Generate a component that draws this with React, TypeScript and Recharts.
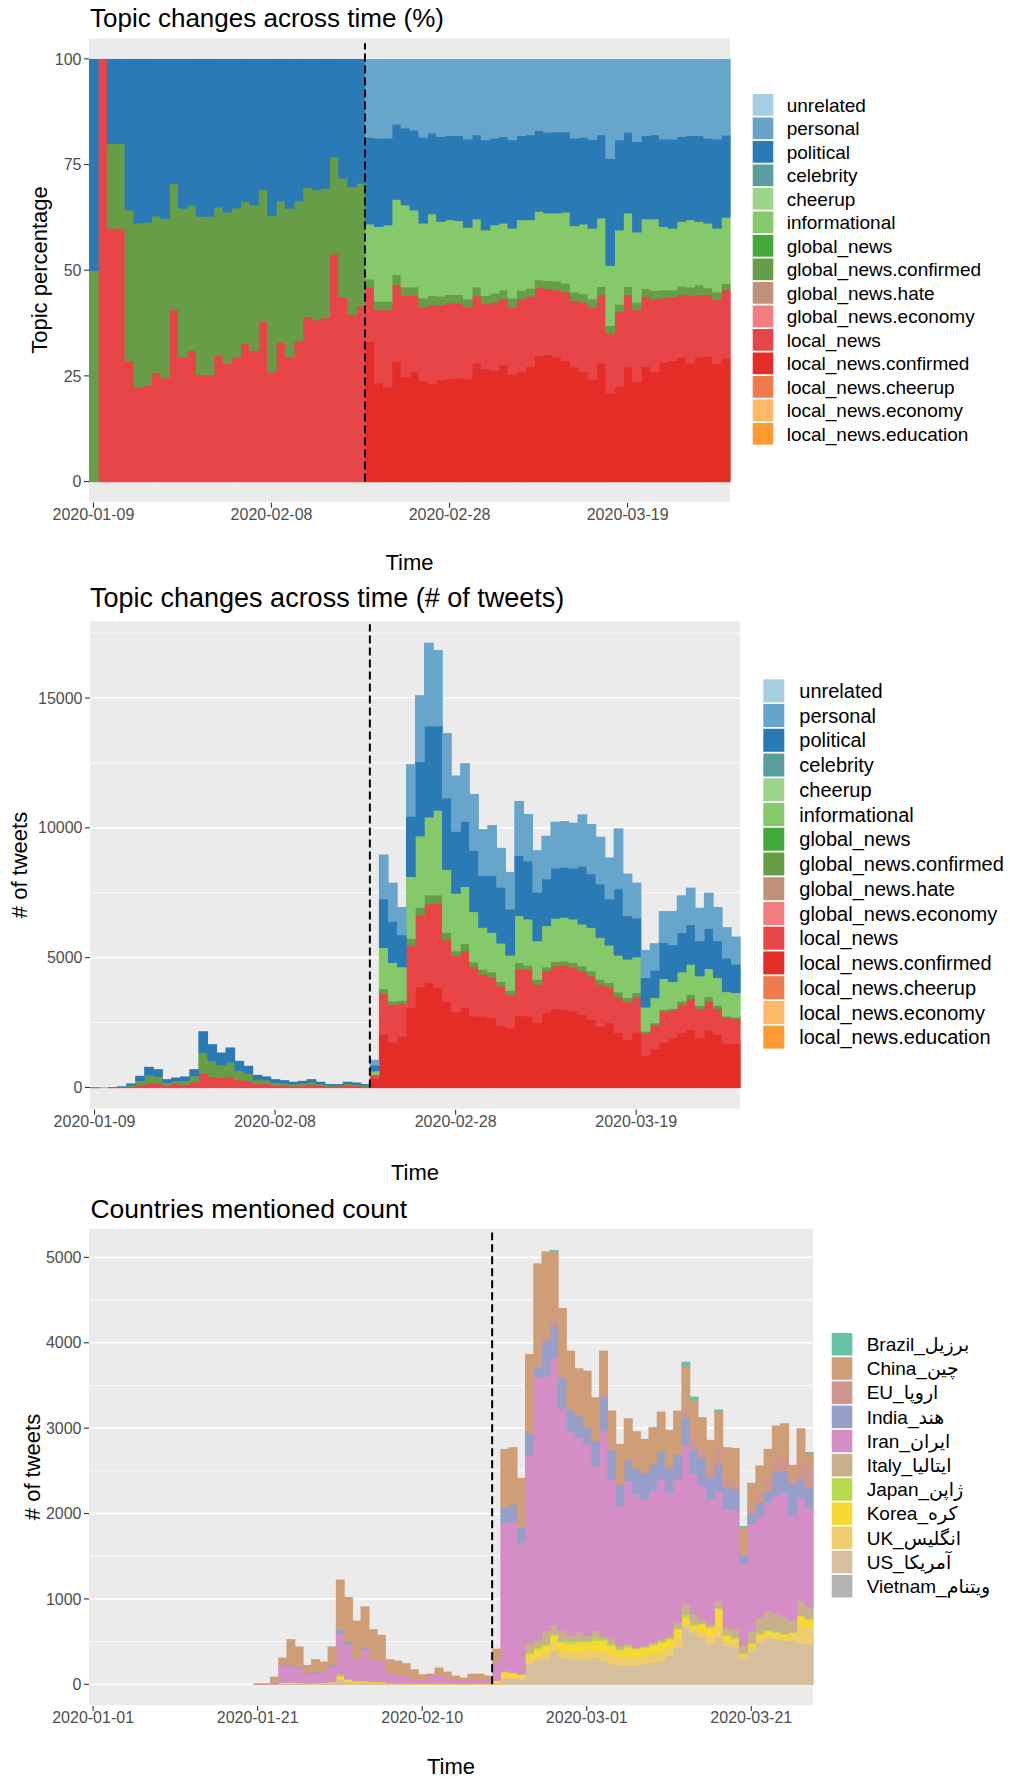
import React from 'react';
import { BarChart, Bar, XAxis, YAxis, CartesianGrid, ReferenceLine } from 'recharts';

const FONT = '"Liberation Sans", Arial, "DejaVu Sans", sans-serif';

// ---------- Chart 1 & 2 : topic categories (one per day with data) ----------
const topicIdx: number[] = Array.from({ length: 72 }, (_, i) => i);
const topicTickIdx = [0, 20, 40, 60];
const topicTickLabels = ['2020-01-09', '2020-02-08', '2020-02-28', '2020-03-19'];
const topicLineIdx = 31;

// Chart 1: percentages
const pctLocalNewsConfirmed = [
  0,0,0,0,0,0,0,0,0,0,0,0,0,0,0,0,0,0,0,0,0,0,0,0,0,0,0,0,0,0,0,
  33.2,23.4,22.4,28.5,24.8,26.0,23.9,23.2,24.2,24.4,24.6,24.3,28.1,26.8,26.4,27.7,25.4,26.0,27.3,29.9,30.1,29.5,28.6,27.2,26.0,24.3,28.1,21.0,22.6,27.2,23.6,27.3,26.0,28.3,28.7,29.5,28.1,29.5,29.7,28.0,29.3];
const pctLocalNews = [
  0,100,60,60,28.7,22.4,22.8,25.8,24.6,40.7,29.5,31.1,25.4,25.4,29.9,28.0,29.5,32.7,31.1,38.0,26.0,33.1,29.5,33.3,39.1,38.3,38.8,53.9,43.7,39.6,41.6,
  12.9,17.3,18.3,18.2,19.3,18.1,17.4,18.7,17.7,17.9,17.7,17.0,15.9,15.3,16.1,15.6,15.9,17.3,16.6,16.0,15.6,15.9,16.3,15.7,16.5,17.0,16.2,14.2,17.6,17.1,17.1,16.6,17.3,15.2,15.0,14.8,16.0,14.8,14.6,15.1,16.1];
const pctGlobalConfirmed = [
  50,0,20,20,35.6,38.8,38.6,37.1,37.7,29.8,35.2,34.3,37.4,37.4,35.1,35.8,35.3,33.6,34.4,31.1,37.0,33.4,35.2,33.2,30.5,30.8,30.6,23.0,28.1,30.2,29.0,
  1.9,2.0,2.0,2.3,2.0,2.0,2.2,2.2,2.0,2.0,2.0,2.0,2.1,2.0,2.1,2.1,2.2,2.0,1.9,1.9,1.9,2.1,2.1,2.0,2.0,2.0,1.9,1.8,1.8,1.9,1.8,1.8,2.0,1.9,1.7,2.0,2.0,2.3,1.6,1.8,1.5];
const pctInformational = [
  0,0,0,0,0,0,0,0,0,0,0,0,0,0,0,0,0,0,0,0,0,0,0,0,0,0,0,0,0,0,0,
  13.0,17.7,18.1,17.8,19.4,18.2,17.7,19.3,17.7,17.7,17.5,16.9,16.1,15.5,16.2,15.8,16.5,16.7,16.2,16.2,16.0,16.1,16.8,15.7,16.5,16.7,16.2,14.2,17.6,17.4,16.6,16.5,16.9,15.0,14.6,15.3,15.9,15.0,15.3,15.1,15.7];
const pctPolitical = [
  50,0,20,20,35.7,38.8,38.6,37.1,37.7,29.5,35.3,34.6,37.2,37.2,35.0,36.2,35.2,33.7,34.5,30.9,37.0,33.5,35.3,33.5,30.4,30.9,30.6,23.1,28.2,30.2,29.4,
  20.5,20.9,20.5,17.8,18.2,18.9,20.3,19.1,20.1,19.9,20.1,20.9,19.9,21.3,20.5,20.5,20.9,19.9,20.1,19.1,19.1,19.2,19.0,20.7,20.5,21.0,19.7,25.3,21.3,19.1,21.4,19.7,19.9,20.7,21.1,20.1,19.9,20.3,20.1,21.1,19.4];
const pctPersonal = [
  0,0,0,0,0,0,0,0,0,0,0,0,0,0,0,0,0,0,0,0,0,0,0,0,0,0,0,0,0,0,0,
  18.5,18.7,18.7,15.4,16.3,16.8,18.5,17.5,18.3,18.1,18.1,18.9,17.9,19.1,18.7,18.3,19.1,18.1,17.9,16.9,17.3,17.2,17.2,18.7,18.5,19.0,17.9,23.5,19.1,17.3,19.5,18.1,17.9,18.9,18.9,18.3,18.1,18.1,18.7,18.9,18.0];

// Chart 2: counts
const cntLocalNewsConfirmed = [
  0,0,0,0,0,0,0,0,0,0,0,0,0,0,0,0,0,0,0,0,0,0,0,0,0,0,0,0,0,0,0,
  354,2050,1753,1985,3081,3880,4047,3854,3313,2913,3081,2758,2758,2694,2398,2307,2784,2758,2501,2887,3042,3016,2952,2823,2630,2346,2501,2114,1856,2140,1237,1495,1727,1921,2114,2243,1921,2217,2050,1701,1701];
const cntLocalNews = [
  0,1,3,24,45,100,180,180,80,155,125,220,550,425,400,430,300,275,150,160,85,95,65,85,125,85,50,70,96,75,54,
  137,1572,1457,1250,2384,2771,3030,3248,2384,2166,2191,1895,1612,1573,1521,1289,1805,1805,1482,1612,1650,1702,1676,1676,1675,1637,1379,1392,1444,1353,877,941,1225,1069,1096,1186,1121,1096,992,993,954];
const cntGlobalConfirmed = [
  1,0,1,8,55,175,310,265,120,115,150,240,810,620,475,550,365,280,168,135,120,90,77,85,98,67,40,30,62,58,38,
  20,193,129,130,284,297,348,323,284,193,284,194,193,193,167,155,232,155,193,154,168,167,193,193,194,193,167,181,167,168,64,65,64,65,129,167,129,193,129,64,65];
const cntInformational = [
  0,0,0,0,0,0,0,0,0,0,0,0,0,0,0,0,0,0,0,0,0,0,0,0,0,0,0,0,0,0,0,
  138,1586,1482,1288,2385,2745,3003,3261,2423,2217,2191,1933,1611,1521,1482,1353,1804,1779,1483,1586,1662,1676,1676,1611,1675,1612,1444,1417,1483,1379,928,966,1186,1031,1121,1160,1134,1083,1070,941,941];
const cntPolitical = [
  1,0,1,8,55,175,305,260,120,115,150,245,805,620,470,560,360,280,167,130,115,95,78,85,97,68,40,30,62,57,38,
  218,1869,1585,1238,2320,2862,3506,3248,2759,2385,2513,2359,1998,2191,2153,1779,2321,2230,1869,1804,1934,1934,1959,2230,2063,2062,1779,2553,1675,1495,1135,1057,1392,1418,1521,1521,1354,1547,1418,1289,1095];
const cntPersonal = [
  0,0,0,0,0,0,0,0,0,0,0,0,0,0,0,0,0,0,0,0,0,0,0,0,0,0,0,0,0,0,0,
  198,1701,1483,1057,1998,2552,3197,2913,2488,2139,2230,2166,1779,1934,1508,1418,2088,1804,1611,1650,1779,1765,1740,1985,1907,1805,1585,2320,1612,1354,1057,1032,1199,1289,1418,1418,1263,1366,1289,1186,1057];

const topicLegendNames = ['unrelated','personal','political','celebrity','cheerup','informational','global_news','global_news.confirmed','global_news.hate','global_news.economy','local_news','local_news.confirmed','local_news.cheerup','local_news.economy','local_news.education'];
const topicLegendColors = ['#A6CEE3','#67A4CC','#2A7AB6','#589E9D','#9DD48C','#86C96A','#42A83C','#689D48','#BE927A','#F27C7F','#E84548','#E42D26','#EE7A4E','#FDB966','#FE9A34'];

const topicSeries = [
  { key: 'lnc', color: '#E42D26' },
  { key: 'ln', color: '#E84548' },
  { key: 'gnc', color: '#689D48' },
  { key: 'info', color: '#86C96A' },
  { key: 'pol', color: '#2A7AB5' },
  { key: 'pers', color: '#67A5CB' },
];

const pctRows = topicIdx.map((i) => ({
  i, lnc: pctLocalNewsConfirmed[i], ln: pctLocalNews[i], gnc: pctGlobalConfirmed[i],
  info: pctInformational[i], pol: pctPolitical[i], pers: pctPersonal[i],
}));
const cntRows = topicIdx.map((i) => ({
  i, lnc: cntLocalNewsConfirmed[i], ln: cntLocalNews[i], gnc: cntGlobalConfirmed[i],
  info: cntInformational[i], pol: cntPolitical[i], pers: cntPersonal[i],
}));

// ---------- Chart 3 : countries, one category per calendar day from 2020-01-01 ----------
const countryDays: number[] = Array.from({ length: 88 }, (_, d) => d);
const countryFirstDay = 20;
const countryTickDays = [0, 20, 40, 60, 80];
const countryTickLabels = ['2020-01-01', '2020-01-21', '2020-02-10', '2020-03-01', '2020-03-21'];
const countryLineDay = 49;

const ctyUS = [0,0,5,10,12,10,8,8,10,15, 60,30,20,20,15,15,8,8,8,6, 6,6,8,6,6,5,6,6,6,20, 70,70,60,242,281,300,398,320,300,300, 300,320,281,242,222,222,222,242,261,281, 339,437,671,612,554,476,554,456,437,300, 390,495,534,534,515,515,484,476];
const ctyUK = [0,0,0,5,5,5,3,4,4,6, 10,10,8,8,6,6,4,3,3,2, 2,2,3,2,2,2,2,2,2,5, 25,20,20,66,58,78,78,78,98,78, 117,78,117,97,100,98,100,100,100,98, 98,98,39,39,60,95,100,60,60,40, 50,60,50,40,40,60,210,200];
const ctyKorea = [0,0,0,8,8,6,5,6,6,8, 30,20,12,15,10,10,5,5,5,3, 3,4,5,4,3,3,3,3,3,20, 55,50,40,51,78,78,97,97,78,117, 78,117,117,117,80,117,95,95,104,117, 97,117,78,39,98,100,234,57,37,19, 36,38,48,38,38,37,113,92];
const ctyJapan = [0,0,0,0,0,0,0,0,0,0, 5,3,0,0,0,0,0,0,0,0, 0,0,0,0,0,0,0,0,0,0, 0,0,0,19,20,20,20,20,39,20, 20,39,20,20,15,20,10,10,10,10, 10,10,39,20,0,10,10,20,20,10, 10,10,10,10,0,0,0,0];
const ctyItaly = [0,0,0,5,5,4,4,4,4,6, 25,7,5,7,5,5,3,3,3,2, 2,2,2,2,2,1,2,2,2,5, 14,4,5,106,86,156,109,117,58,97, 58,78,38,58,39,19,10,9,20,28, 29,67,117,117,56,29,85,78,97,87, 146,185,224,205,203,137,176,137];
const ctyIran = [4,4,20,192,186,171,109,119,125,173, 470,400,261,365,250,250,109,91,91,58, 58,96,100,76,58,40,58,58,58,220, 1735,1775,1540,2195,3073,2983,3128,2593,2399,2282, 2243,1930,2399,1872,1638,1911,1794,1716,1775,1872, 1677,1677,1852,1638,1560,1462,1287,1384,1393,956, 1248,1170,1267,1384,1454,1228,1209,1178];
const ctyIndia = [0,0,0,10,10,10,10,10,10,19, 47,32,0,16,8,0,0,0,0,0, 0,0,0,0,0,0,0,0,0,0, 176,195,176,262,117,410,370,371,253,253, 195,293,390,351,254,242,304,312,312,332, 285,293,332,292,332,254,312,254,245,97, 117,175,137,293,254,371,214,226];
const ctyEU = [0,0,0,0,0,0,0,0,0,0, 0,0,0,0,0,0,0,0,0,0, 0,0,0,0,0,0,0,0,0,0, 0,0,0,10,39,78,90,0,0,0, 0,0,39,0,0,0,0,0,0,0, 0,0,97,156,97,156,195,117,59,39, 78,98,156,156,156,58,215,253];
const ctyChina = [8,8,65,84,303,237,88,143,108,216, 580,521,439,482,353,294,165,168,137,105, 47,15,78,59,31,27,54,54,31,147, 682,663,577,918,1178,967,784,811,683,554, 663,507,507,449,468,487,429,390,429,456, 445,507,507,418,371,281,421,351,421,293, 285,331,331,370,398,164,378,149];
const ctyBrazil = [0,0,0,0,0,0,0,0,0,0, 0,0,0,0,0,0,0,0,0,0, 0,0,0,0,0,0,0,0,0,0, 0,0,0,0,0,0,12,0,0,0, 0,0,0,0,0,0,0,0,0,0, 0,0,47,39,0,0,20,0,0,12, 0,0,0,0,0,0,0,10];

const countryLegendNames = ['Brazil_برزیل','China_چین','EU_اروپا','India_هند','Iran_ایران','Italy_ایتالیا','Japan_ژاپن','Korea_کره','UK_انگلیس','US_آمریکا','Vietnam_ویتنام'];
const countryLegendColors = ['#66C2A5','#CF9D76','#D0958C','#969ECA','#D58EC5','#C6B18C','#B8D84D','#F6D933','#EFCC6C','#D6BF9D','#B3B3B3'];

const countrySeries = [
  { key: 'US', color: '#D6BF9D' },
  { key: 'UK', color: '#EFCC6C' },
  { key: 'Korea', color: '#F6D933' },
  { key: 'Japan', color: '#B8D84D' },
  { key: 'Italy', color: '#C6B18C' },
  { key: 'Iran', color: '#D58EC5' },
  { key: 'India', color: '#969ECA' },
  { key: 'EU', color: '#D0958C' },
  { key: 'China', color: '#CF9D76' },
  { key: 'Brazil', color: '#66C2A5' },
];

const countryRows = countryDays.map((d) => {
  const j = d - countryFirstDay;
  if (j < 0) return { d };
  return {
    d, US: ctyUS[j], UK: ctyUK[j], Korea: ctyKorea[j], Japan: ctyJapan[j], Italy: ctyItaly[j],
    Iran: ctyIran[j], India: ctyIndia[j], EU: ctyEU[j], China: ctyChina[j], Brazil: ctyBrazil[j],
  };
});

// ---------- shared styles ----------
const tickStyle = { fontSize: 16, fill: '#4D4D4D', fontFamily: FONT };
const tickLineStyle = { stroke: '#333333', strokeWidth: 1.1 };

// Bar shape: the rectangle Recharts computes, padded by a fraction of a pixel so that
// neighbouring columns / stacked segments overlap and no anti-aliasing seams show.
const SeamlessRect = (p: any) => {
  if (!p || !(p.height > 0) || !(p.width > 0)) return <g />;
  return <rect x={p.x} y={p.y} width={p.width + 0.7} height={p.height + 0.7} fill={p.fill} />;
};

function Panel(props: {
  left: number; top: number; width: number; height: number;
  margin: { top: number; right: number; bottom: number; left: number };
  yWidth: number; data: any[]; xKey: string; xTicks: number[]; xLabels: string[];
  yDomain: [number, number]; yTicks: number[]; yMinor: number[];
  series: { key: string; color: string }[]; lineAt: number; lineTop: number;
}) {
  const labelOf = (v: number) => {
    const k = props.xTicks.indexOf(v);
    return k >= 0 ? props.xLabels[k] : '';
  };
  const plotWidth = props.width - props.margin.left - props.margin.right - props.yWidth;
  const band = plotWidth / props.data.length;
  return (
    <div style={{ position: 'absolute', left: props.left, top: props.top }}>
      <BarChart width={props.width} height={props.height} data={props.data} margin={props.margin}
        barCategoryGap={0} barGap={0} barSize={band - 0.01}>
        <CartesianGrid vertical={false} fill="#EBEBEB" fillOpacity={1} stroke="#FFFFFF" strokeWidth={1.7} />
        <CartesianGrid vertical={false} horizontalValues={props.yMinor} stroke="#FFFFFF" strokeWidth={0.8} />
        <XAxis dataKey={props.xKey} type="category" ticks={props.xTicks} interval={0}
          tickFormatter={labelOf} axisLine={false} tickLine={tickLineStyle} tickSize={5} tickMargin={1}
          height={30} tick={tickStyle} />
        <YAxis type="number" domain={props.yDomain} allowDataOverflow ticks={props.yTicks} interval={0}
          width={props.yWidth} axisLine={false} tickLine={tickLineStyle} tickSize={5} tickMargin={2.5}
          tick={tickStyle} />
        {props.series.map((s) => (
          <Bar key={s.key} dataKey={s.key} stackId="s" fill={s.color} shape={SeamlessRect}
            isAnimationActive={false} />
        ))}
        <ReferenceLine segment={[{ x: props.lineAt, y: 0 }, { x: props.lineAt, y: props.lineTop }]}
          position="start" stroke="#000000" strokeWidth={2} strokeDasharray="8 4" ifOverflow="visible" />
      </BarChart>
    </div>
  );
}

function Legend(props: { x: number; y: number; pitch: number; kw: number; kh: number; tx: number; fs: number; names: string[]; colors: string[] }) {
  return (
    <g>
      {props.names.map((n, i) => {
        const top = props.y + i * props.pitch;
        return (
          <g key={n}>
            <rect x={props.x} y={top} width={props.kw} height={props.kh} fill={props.colors[i]} />
            <text x={props.tx} y={top + props.kh / 2 + props.fs * 0.36} fontSize={props.fs} fontFamily={FONT} fill="#000">{n}</text>
          </g>
        );
      })}
    </g>
  );
}

export default function App() {
  return (
    <div style={{ position: 'absolute', left: 0, top: 0, width: 1010, height: 1779, background: '#FFFFFF', overflow: 'hidden' }}>
      {/* Chart 1 : plot area x 89..730, y 37.7..502.7 */}
      <Panel left={0} top={0} width={740} height={540}
        margin={{ top: 37.7, right: 10, bottom: 7.3, left: 0 }} yWidth={89}
        data={pctRows} xKey="i" xTicks={topicTickIdx} xLabels={topicTickLabels}
        yDomain={[-5, 105]} yTicks={[0, 25, 50, 75, 100]} yMinor={[12.5, 37.5, 62.5, 87.5]}
        series={topicSeries} lineAt={topicLineIdx} lineTop={103.7} />
      {/* Chart 2 : plot area x 90..740, y 620.4..1109.7 */}
      <Panel left={0} top={560} width={750} height={600}
        margin={{ top: 60.4, right: 10, bottom: 20.3, left: 0 }} yWidth={90}
        data={cntRows} xKey="i" xTicks={topicTickIdx} xLabels={topicTickLabels}
        yDomain={[-857, 17988]} yTicks={[0, 5000, 10000, 15000]} yMinor={[2500, 7500, 12500, 17500]}
        series={topicSeries} lineAt={topicLineIdx} lineTop={17842} />
      {/* Chart 3 : plot area x 89..813, y 1228..1706 */}
      <Panel left={0} top={1180} width={818} height={560}
        margin={{ top: 48, right: 5, bottom: 4, left: 0 }} yWidth={89}
        data={countryRows} xKey="d" xTicks={countryTickDays} xLabels={countryTickLabels}
        yDomain={[-254, 5344]} yTicks={[0, 1000, 2000, 3000, 4000, 5000]} yMinor={[500, 1500, 2500, 3500, 4500]}
        series={countrySeries} lineAt={countryLineDay} lineTop={5290} />

      <svg width={1010} height={1779} style={{ position: 'absolute', left: 0, top: 0, pointerEvents: 'none' }}>
        {/* Chart 1 texts */}
        <text x={90} y={26.7} fontSize={26} fontFamily={FONT} fill="#000">Topic changes across time (%)</text>
        <text x={46.6} y={270} fontSize={22} fontFamily={FONT} fill="#000" textAnchor="middle" transform="rotate(-90 46.6 270)">Topic percentage</text>
        <text x={409.5} y={569.6} fontSize={22} fontFamily={FONT} fill="#000" textAnchor="middle">Time</text>
        <Legend x={752.7} y={94} pitch={23.5} kw={20.6} kh={21.7} tx={786.7} fs={19} names={topicLegendNames} colors={topicLegendColors} />

        {/* Chart 2 texts */}
        <text x={90} y={607} fontSize={27} fontFamily={FONT} fill="#000">Topic changes across time (# of tweets)</text>
        <text x={26.5} y={865} fontSize={22} fontFamily={FONT} fill="#000" textAnchor="middle" transform="rotate(-90 26.5 865)"># of tweets</text>
        <text x={415} y={1180} fontSize={22} fontFamily={FONT} fill="#000" textAnchor="middle">Time</text>
        <Legend x={763.3} y={679.3} pitch={24.74} kw={21} kh={23} tx={799.3} fs={20} names={topicLegendNames} colors={topicLegendColors} />

        {/* Chart 3 texts */}
        <text x={90.4} y={1218} fontSize={26.5} fontFamily={FONT} fill="#000">Countries mentioned count</text>
        <text x={39.5} y={1467} fontSize={22} fontFamily={FONT} fill="#000" textAnchor="middle" transform="rotate(-90 39.5 1467)"># of tweets</text>
        <text x={451} y={1774} fontSize={22} fontFamily={FONT} fill="#000" textAnchor="middle">Time</text>
        <Legend x={831.7} y={1333} pitch={24.2} kw={20.6} kh={22.5} tx={866.7} fs={19} names={countryLegendNames} colors={countryLegendColors} />
      </svg>
    </div>
  );
}
